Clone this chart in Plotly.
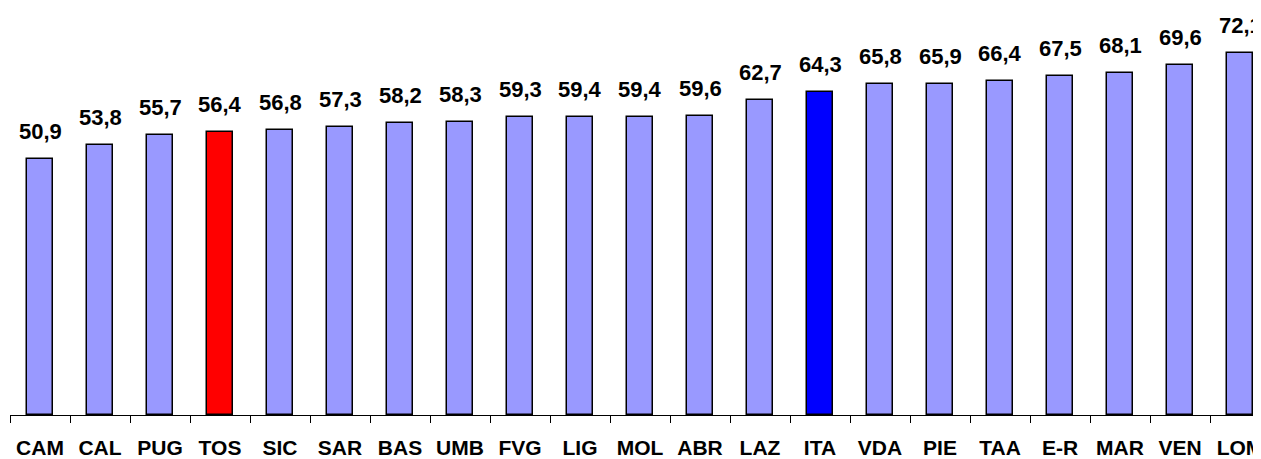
import plotly.graph_objects as go

categories = ["CAM", "CAL", "PUG", "TOS", "SIC", "SAR", "BAS", "UMB", "FVG", "LIG", "MOL",
              "ABR", "LAZ", "ITA", "VDA", "PIE", "TAA", "E-R", "MAR", "VEN", "LOM"]
values = [50.9, 53.8, 55.7, 56.4, 56.8, 57.3, 58.2, 58.3, 59.3, 59.4, 59.4,
          59.6, 62.7, 64.3, 65.8, 65.9, 66.4, 67.5, 68.1, 69.6, 72.1]
labels = [f"{v:.1f}".replace(".", ",") for v in values]

base_color = "#9999FF"
highlight = {"TOS": "#FF0000", "ITA": "#0000FF"}
colors = [highlight.get(c, base_color) for c in categories]

FONT = "Arial, 'Liberation Sans', sans-serif"

fig = go.Figure()
fig.add_trace(go.Bar(
    x=categories, y=values,
    marker=dict(color=colors, line=dict(color="black", width=1.5)),
    width=0.43,
    hoverinfo="skip",
))

for c, v, t in zip(categories, values, labels):
    fig.add_annotation(x=c, y=v, text=f"<b>{t}</b>", showarrow=False,
                       yanchor="bottom", yshift=13,
                       font=dict(family=FONT, size=22, color="black"))

# page body has an 8px default margin, so the figure is sized/offset to compensate
fig.update_layout(
    width=1253, height=451,
    margin=dict(l=2, r=0, t=5, b=44),
    paper_bgcolor="white", plot_bgcolor="white",
    showlegend=False,
    bargap=0,
    xaxis=dict(
        range=[-0.5, 20.35],
        showline=True, linecolor="black", linewidth=1,
        ticks="outside", tickson="boundaries", ticklen=7, tickcolor="black", tickwidth=1,
        tickfont=dict(family=FONT, size=21, color="black"),
        tickvals=categories, ticktext=[f"<b>{c}</b>" for c in categories],
        ticklabelstandoff=14,
        showgrid=False, zeroline=False, automargin=False,
    ),
    yaxis=dict(range=[0, 80], visible=False, showgrid=False, zeroline=False),
)

fig.write_html("out.html")
